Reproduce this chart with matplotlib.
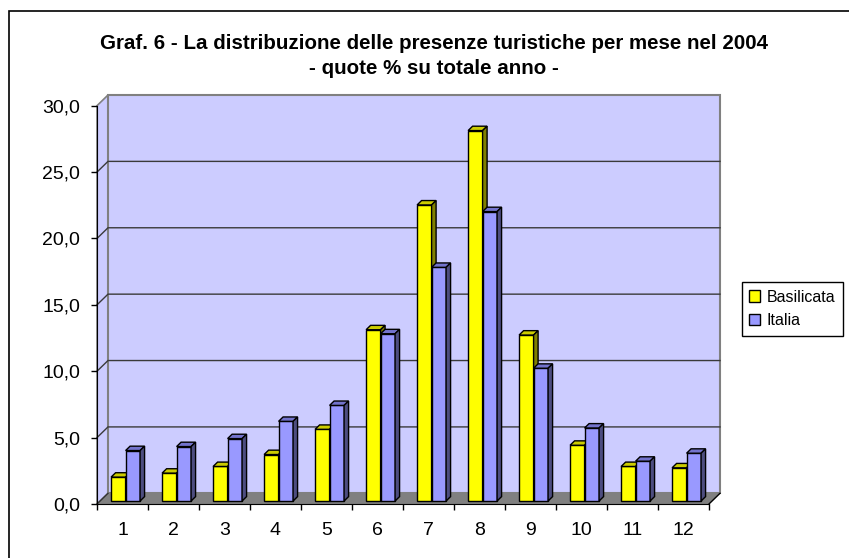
import matplotlib
matplotlib.use("Agg")
import matplotlib.pyplot as plt
from matplotlib.patches import Polygon, Rectangle, Patch
from matplotlib.ticker import FuncFormatter, FixedLocator

plt.rcParams['font.family'] = ['Liberation Sans', 'DejaVu Sans']

months = ["1", "2", "3", "4", "5", "6", "7", "8", "9", "10", "11", "12"]
basilicata = [1.8, 2.1, 2.6, 3.5, 5.4, 12.9, 22.3, 27.9, 12.5, 4.2, 2.6, 2.5]
italia = [3.8, 4.1, 4.7, 6.0, 7.2, 12.6, 17.6, 21.8, 10.0, 5.5, 3.0, 3.6]
series_names = ["Basilicata", "Italia"]
title = "Graf. 6 - La distribuzione delle presenze turistiche per mese nel 2004\n- quote % su totale anno -"
yticks = [0, 5, 10, 15, 20, 25, 30]

W, H = 849, 558
fig = plt.figure(figsize=(W / 100, H / 100), dpi=100)
fig.patch.set_facecolor("white")

ax = fig.add_axes([97 / W, 54 / H, 612 / W, 398.3 / H])
ax.set_xlim(0, len(months))
ax.set_ylim(0, 30)
ax.patch.set_visible(False)

# 3D depth offsets (in data units)
DX = 11 / 51.0
DY = 10.7 / 13.28
f0, f1 = 0.28, 0.69
bw = 0.284
n = len(months)
ymax = 30

wall = "#CCCCFF"
edge_gray = "#808080"

# left wall
ax.add_patch(Polygon([(0, 0), (DX, DY), (DX, ymax + DY), (0, ymax)], closed=True,
                     facecolor=wall, edgecolor=edge_gray, lw=1.2, zorder=0, clip_on=False))
# back wall
ax.add_patch(Polygon([(DX, DY), (n + DX, DY), (n + DX, ymax + DY), (DX, ymax + DY)], closed=True,
                     facecolor=wall, edgecolor=edge_gray, lw=1.5, zorder=0, clip_on=False))
# gridlines
for v in yticks[1:-1]:
    ax.plot([0, DX, n + DX], [v, v + DY, v + DY], color="#3a3a3a", lw=1.0, zorder=1,
            clip_on=False, solid_joinstyle="miter")
# floor
ax.add_patch(Polygon([(0, 0), (n, 0), (n + DX, DY), (DX, DY)], closed=True,
                     facecolor="#808080", edgecolor="none", zorder=1, clip_on=False))
ax.plot([0, DX], [0, DY], color="#333333", lw=1.0, zorder=1.5, clip_on=False)
ax.plot([n, n + DX], [0, DY], color="black", lw=1.0, zorder=1.5, clip_on=False)

colors = {
    "Basilicata": ("#FFFF00", "#CCCC00", "#808000"),
    "Italia": ("#9999FF", "#7373CC", "#4D4D80"),
}

def draw_bar(x0, x1, v, cols, z):
    front, top, side = cols
    ax.add_patch(Polygon([(x0 + f0 * DX, f0 * DY), (x1 + f0 * DX, f0 * DY),
                          (x1 + f0 * DX, v + f0 * DY), (x0 + f0 * DX, v + f0 * DY)],
                         closed=True, facecolor=front, edgecolor="black", lw=1.0,
                         zorder=z, clip_on=False, joinstyle="miter"))
    ax.add_patch(Polygon([(x0 + f0 * DX, v + f0 * DY), (x1 + f0 * DX, v + f0 * DY),
                          (x1 + f1 * DX, v + f1 * DY), (x0 + f1 * DX, v + f1 * DY)],
                         closed=True, facecolor=top, edgecolor="black", lw=1.0,
                         zorder=z, clip_on=False, joinstyle="miter"))
    ax.add_patch(Polygon([(x1 + f0 * DX, f0 * DY), (x1 + f1 * DX, f1 * DY),
                          (x1 + f1 * DX, v + f1 * DY), (x1 + f0 * DX, v + f0 * DY)],
                         closed=True, facecolor=side, edgecolor="black", lw=1.0,
                         zorder=z, clip_on=False, joinstyle="miter"))

z = 3
for i in range(n):
    c = i + 0.5
    draw_bar(c - bw, c, basilicata[i], colors["Basilicata"], z)
    z += 0.01
    draw_bar(c, c + bw, italia[i], colors["Italia"], z)
    z += 0.01

# spines & ticks
for s in ["top", "right"]:
    ax.spines[s].set_visible(False)
ax.spines["left"].set_color("black")
ax.spines["bottom"].set_color("black")
ax.spines["left"].set_zorder(2)
ax.spines["bottom"].set_zorder(2)

ax.yaxis.set_major_locator(FixedLocator(yticks))
ax.yaxis.set_major_formatter(FuncFormatter(lambda v, p: f"{v:.1f}".replace(".", ",")))
ax.tick_params(axis="y", direction="out", length=4.5, width=1, color="black",
               labelsize=14, pad=7.5)

ax.set_xticks(range(n + 1))
ax.set_xticklabels([])
ax.set_xticks([i + 0.5 for i in range(n)], minor=True)
ax.set_xticklabels(months, minor=True)
ax.tick_params(axis="x", which="major", direction="out", length=4.5, width=1, color="black")
ax.tick_params(axis="x", which="minor", length=0, labelsize=14, pad=13)

# title
fig.text(434 / W, 1 - 56 / H, title, ha="center", va="center", fontsize=14.8,
         fontweight="bold", linespacing=1.45)

# legend
handles = [Patch(facecolor=colors[s][0], edgecolor="black", lw=1.0) for s in series_names]
leg = fig.legend(handles, series_names, loc="center left",
                 bbox_to_anchor=(742 / W, 1 - 309 / H), fontsize=11.5, frameon=True,
                 fancybox=False, edgecolor="black", framealpha=1, borderpad=0.45,
                 handlelength=0.7, handleheight=0.7, handletextpad=0.4,
                 labelspacing=0.55, borderaxespad=0)
leg.get_frame().set_linewidth(1.0)

# outer chart border (extends past the image on the right and bottom)
fig.add_artist(Rectangle((9 / W, -0.1), 2.0, (H - 11) / H + 0.1, transform=fig.transFigure,
                         fill=False, edgecolor="black", lw=1.2))

fig.savefig("out.png", dpi=100)
